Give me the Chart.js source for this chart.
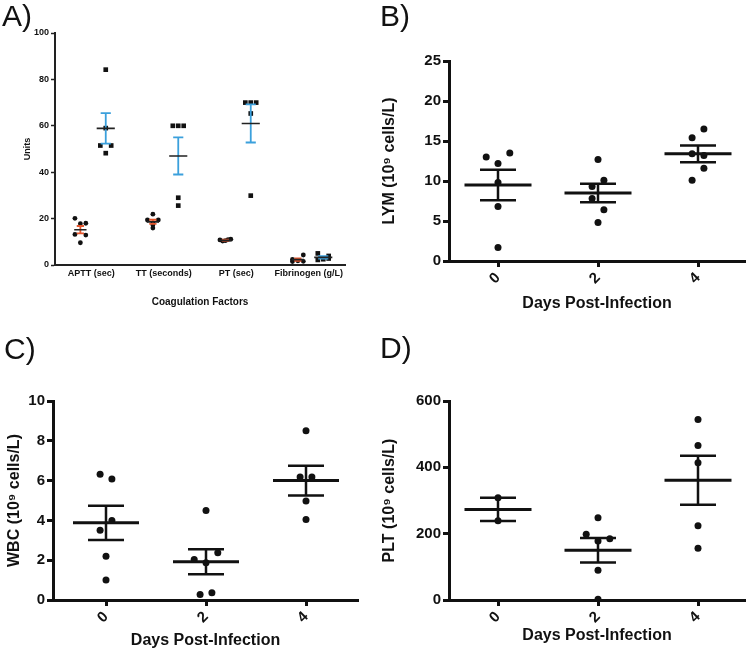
<!DOCTYPE html>
<html>
<head>
<meta charset="utf-8">
<title>Coagulation and blood counts</title>
<script src="https://cdn.jsdelivr.net/npm/chart.js@4.4.1/dist/chart.umd.min.js"></script>
<style>
  body { margin: 0; background: #fff; width: 750px; height: 653px; position: relative; overflow: hidden; }
  .panel { position: absolute; }
  .tag { position: absolute; font-family: "Liberation Sans", Arial, sans-serif; font-size: 30px; line-height: 30px; color: #111; }
</style>
</head>
<body>
<div class="panel" style="left:0;top:0"><canvas id="chartA" width="375" height="320"></canvas></div>
<div class="panel" style="left:375px;top:0"><canvas id="chartB" width="375" height="330"></canvas></div>
<div class="panel" style="left:0;top:330px"><canvas id="chartC" width="375" height="323"></canvas></div>
<div class="panel" style="left:375px;top:330px"><canvas id="chartD" width="375" height="323"></canvas></div>
<div class="tag" style="left:2px;top:1px">A)</div>
<div class="tag" style="left:380px;top:1px">B)</div>
<div class="tag" style="left:4px;top:334px">C)</div>
<div class="tag" style="left:380px;top:333px">D)</div>
<script>
// Panel A - coagulation factors (control = red bars, infected = blue bars)
const coagLabels = ['APTT (sec)', 'TT (seconds)', 'PT (sec)', 'Fibrinogen (g/L)'];
const controlValues = [
    [20.1, 17.8, 18.0, 13.2, 12.9, 9.6],
    [21.9, 19.4, 19.4, 18.0, 17.2, 15.9],
    [10.8, 10.5, 11.1, 10.3, 10.9],
    [2.4, 4.3, 1.8, 1.5, 2.0, 1.6]
];
const controlMean = [15.2, 18.6, 10.7, 2.3];
const controlSem = [1.6, 0.9, 0.2, 0.5];
const infectedValues = [
    [84.2, 59.0, 51.5, 51.5, 48.2],
    [60.0, 60.0, 60.0, 29.0, 25.6],
    [70.0, 70.0, 70.0, 65.3, 29.9],
    [5.0, 3.9, 2.5, 2.2, 2.8]
];
const infectedMean = [58.9, 47.0, 61.0, 3.3];
const infectedSem = [6.6, 8.0, 8.2, 0.5];

// Panels B-D - blood counts by day
const dayLabels = ['0', '2', '4'];
const lymValues = [
    [13.0, 12.2, 13.5, 9.8, 6.8, 1.7],
    [12.7, 10.1, 9.3, 7.8, 6.4, 4.8],
    [16.5, 15.4, 13.4, 13.2, 11.6, 10.1]
];
const lymMean = [9.5, 8.5, 13.4];
const lymSem = [1.9, 1.15, 1.05];

const wbcValues = [
    [6.32, 6.08, 4.0, 3.5, 2.2, 1.0],
    [4.5, 2.04, 1.87, 2.37, 0.28, 0.37],
    [8.5, 6.18, 6.18, 4.98, 4.05]
];
const wbcMean = [3.88, 1.92, 6.0];
const wbcSem = [0.86, 0.63, 0.75];

const pltValues = [
    [308, 239],
    [248, 198, 178, 185, 90, 2],
    [544, 466, 414, 224, 156]
];
const pltMean = [273, 150, 361];
const pltSem = [35, 37, 74];

// Horizontal spread of overlapping dots (in dot widths), layout only
const controlSpread = [[-1, 0, 1, -1, 1, 0], [0, -1, 1, 0, 0, 0], [-1, 0, 1, -0.5, 0.5], [-1, 1, 0, -1, 0, 1]];
const infectedSpread = [[0, 0, -1, 1, 0], [-1, 0, 1, 0, 0], [-1, 0, 1, 0, 0], [-1, 1, 0, -1, 1]];
const lymSpread = [[-1, 0, 1, 0, 0, 0], [0, 0.5, -0.5, -0.5, 0.5, 0], [0.5, -0.5, -0.5, 0.5, 0.5, -0.5]];
const wbcSpread = [[-0.5, 0.5, 0.5, -0.5, 0, 0], [0, -1, 0, 1, -0.5, 0.5], [0, -0.5, 0.5, 0, 0]];
const pltSpread = [[0, 0], [0, -1, 0, 1, 0, 0], [0, 0, 0, 0, 0]];

Chart.defaults.font.family = '"Liberation Sans", Arial, sans-serif';
Chart.defaults.color = '#111';

// Helpers
function pointsData(values, centers, spread, step) {
    const pts = [];
    values.forEach((group, g) => {
        group.forEach((v, k) => pts.push({ x: centers[g] + spread[g][k] * step, y: v }));
    });
    return pts;
}

function meanData(centers, means, half) {
    const pts = [];
    centers.forEach((c, g) => {
        pts.push({ x: c - half, y: means[g] }, { x: c + half, y: means[g] }, { x: c, y: null });
    });
    return pts;
}

function semData(centers, means, sems, cap) {
    const pts = [];
    centers.forEach((c, g) => {
        const hi = means[g] + sems[g];
        const lo = means[g] - sems[g];
        pts.push({ x: c - cap, y: hi }, { x: c + cap, y: hi }, { x: c, y: null });
        pts.push({ x: c, y: hi }, { x: c, y: lo }, { x: c, y: null });
        pts.push({ x: c - cap, y: lo }, { x: c + cap, y: lo }, { x: c, y: null });
    });
    return pts;
}

function lineSet(data, color, width) {
    return { data, showLine: true, borderColor: color, borderWidth: width, pointRadius: 0, pointHoverRadius: 0, fill: false };
}

function dotSet(data, style, radius) {
    return { data, pointStyle: style, pointRadius: radius, pointHoverRadius: radius, backgroundColor: '#111', borderColor: '#111', borderWidth: 0 };
}

// Panel A
const controlCenters = coagLabels.map((_, i) => i + 0.35);
const infectedCenters = coagLabels.map((_, i) => i + 0.7);
const labelCenters = coagLabels.map((_, i) => i + 0.5);

new Chart(document.getElementById('chartA'), {
    type: 'scatter',
    data: {
        datasets: [
            lineSet(meanData(controlCenters, controlMean, 0.085), '#222', 1.6),
            lineSet(meanData(infectedCenters, infectedMean, 0.125), '#222', 1.6),
            lineSet(semData(controlCenters, controlMean, controlSem, 0.05), '#e4572e', 1.8),
            lineSet(semData(infectedCenters, infectedMean, infectedSem, 0.07), '#3ba0dc', 1.8),
            dotSet(pointsData(controlValues, controlCenters, controlSpread, 0.075), 'circle', 2.4),
            dotSet(pointsData(infectedValues, infectedCenters, infectedSpread, 0.075), 'rect', 3.3)
        ]
    },
    options: {
        responsive: false,
        animation: false,
        layout: { padding: { top: 33, right: 30, left: 0, bottom: 0 } },
        plugins: { legend: { display: false }, tooltip: { enabled: false } },
        scales: {
            x: {
                type: 'linear', min: 0, max: 4,
                afterFit: s => { s.height = 55; },
                afterBuildTicks: s => { s.ticks = labelCenters.map(v => ({ value: v })); },
                ticks: { callback: (v, i) => coagLabels[i], maxRotation: 0, padding: 3, font: { size: 9, weight: 'bold' } },
                grid: { drawOnChartArea: false, drawTicks: false },
                border: { color: '#222', width: 2 },
                title: { display: true, text: 'Coagulation Factors', font: { size: 10, weight: 'bold' }, padding: { top: 0, bottom: 12 } }
            },
            y: {
                min: 0, max: 100,
                afterFit: s => { s.width = 55; },
                ticks: { stepSize: 20, padding: 2, font: { size: 9, weight: 'bold' } },
                grid: { drawOnChartArea: false, tickLength: 4, tickWidth: 1.5, tickColor: '#222' },
                border: { color: '#222', width: 2 },
                title: { display: true, text: 'Units', font: { size: 9, weight: 'bold' }, padding: { top: 22, bottom: 0 } }
            }
        }
    }
});

// Panels B-D
function dayChart(id, spec) {
    const centers = dayLabels.map((_, i) => i);
    return new Chart(document.getElementById(id), {
        type: 'scatter',
        data: {
            datasets: [
                lineSet(meanData(centers, spec.mean, spec.meanHalf), '#111', 3),
                lineSet(semData(centers, spec.mean, spec.sem, spec.capHalf), '#111', 2.5),
                dotSet(pointsData(spec.values, centers, spec.spread, spec.spreadStep), 'circle', 3.5)
            ]
        },
        options: {
            responsive: false,
            animation: false,
            layout: { padding: { top: spec.top, right: spec.right, left: 0, bottom: 0 } },
            plugins: { legend: { display: false }, tooltip: { enabled: false } },
            scales: {
                x: {
                    type: 'linear', min: spec.xMin, max: spec.xMax,
                    afterFit: s => { s.height = spec.xHeight; },
                    afterBuildTicks: s => { s.ticks = centers.map(v => ({ value: v })); },
                    ticks: { callback: (v, i) => dayLabels[i], minRotation: 45, maxRotation: 45, padding: 2, font: { size: 15, weight: 'bold' } },
                    grid: { drawOnChartArea: false, tickLength: 6, tickWidth: 3, tickColor: '#111' },
                    border: { color: '#111', width: 3 },
                    title: { display: true, text: 'Days Post-Infection', font: { size: 16, weight: 'bold' }, padding: { top: 0, bottom: spec.xTitlePad } }
                },
                y: {
                    min: 0, max: spec.yMax,
                    afterFit: s => { s.width = spec.yWidth; },
                    ticks: { stepSize: spec.yStep, padding: 2, font: { size: 15, weight: 'bold' } },
                    grid: { drawOnChartArea: false, tickLength: 6, tickWidth: 3, tickColor: '#111' },
                    border: { color: '#111', width: 3 },
                    title: { display: true, text: spec.yTitle, font: { size: 16, weight: 'bold' }, padding: { top: 5, bottom: 0 } }
                }
            }
        }
    });
}

dayChart('chartB', {
    values: lymValues, mean: lymMean, sem: lymSem, spread: lymSpread,
    yTitle: 'LYM (10\u2079 cells/L)', yMax: 25, yStep: 5,
    top: 61, right: 5, yWidth: 74, xHeight: 69, xMin: -0.49, xMax: 2.47,
    meanHalf: 0.335, capHalf: 0.18, spreadStep: 0.118, xTitlePad: 17
});

dayChart('chartC', {
    values: wbcValues, mean: wbcMean, sem: wbcSem, spread: wbcSpread,
    yTitle: 'WBC (10\u2079 cells/L)', yMax: 10, yStep: 2,
    top: 71, right: 17, yWidth: 53, xHeight: 53, xMin: -0.53, xMax: 2.52,
    meanHalf: 0.33, capHalf: 0.18, spreadStep: 0.118, xTitlePad: 3
});

dayChart('chartD', {
    values: pltValues, mean: pltMean, sem: pltSem, spread: pltSpread,
    yTitle: 'PLT (10\u2079 cells/L)', yMax: 600, yStep: 200,
    top: 71, right: 5, yWidth: 74, xHeight: 53, xMin: -0.49, xMax: 2.47,
    meanHalf: 0.335, capHalf: 0.18, spreadStep: 0.118, xTitlePad: 8
});
</script>
</body>
</html>
